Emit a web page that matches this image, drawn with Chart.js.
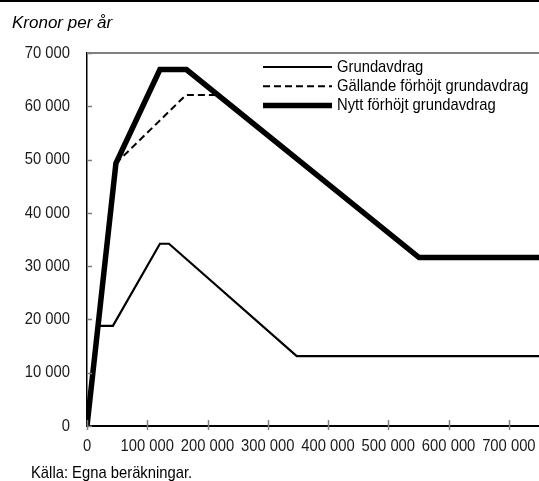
<!DOCTYPE html>
<html>
<head>
<meta charset="utf-8">
<script src="https://cdn.jsdelivr.net/npm/chart.js@4.4.0/dist/chart.umd.min.js"></script>
<style>
  html, body { margin: 0; padding: 0; background: #fff; }
  #wrap { width: 539px; height: 481px; }
</style>
</head>
<body>
<div id="wrap"><canvas id="myChart" width="539" height="481"></canvas></div>
<script>
// inkomst (kr per år) och avdrag
var grundX = [0, 18800, 43000, 121000, 136000, 348000, 750000];
var grundY = [0, 18800, 18800, 34200, 34200, 13100, 13100];
var gallandeX = [0, 48000, 164000, 218000, 551000, 750000];
var gallandeY = [0, 49300, 62100, 62100, 31600, 31600];
var nyttX = [0, 48000, 121000, 165000, 551000, 750000];
var nyttY = [0, 49300, 66900, 66900, 31600, 31600];
var labels = ['Grundavdrag', 'Gällande förhöjt grundavdrag', 'Nytt förhöjt grundavdrag'];
var xTicks = [0, 100000, 200000, 300000, 400000, 500000, 600000, 700000];
var yTicks = [0, 10000, 20000, 30000, 40000, 50000, 60000, 70000];

var NARROW = 0.87; // no narrow font installed, squeeze Liberation Sans instead
var FONT = '17px "Liberation Sans", Arial, sans-serif';

function pts(xs, ys) {
  return xs.map(function (x, i) { return { x: x, y: ys[i] }; });
}
function fmt(v) {
  return String(v).replace(/\B(?=(\d{3})+(?!\d))/g, ' ');
}
function narrowText(c, txt, x, y, align, base) {
  c.save();
  c.font = FONT;
  c.textAlign = align;
  c.textBaseline = base;
  c.translate(x, y);
  c.scale(NARROW, 1);
  c.fillText(txt, 0, 0);
  c.restore();
}

var extras = {
  id: 'extras',
  afterDraw: function (chart) {
    var c = chart.ctx, a = chart.chartArea;
    var xs = chart.scales.x, ys = chart.scales.y;
    c.save();
    // top rule
    c.fillStyle = '#000';
    c.fillRect(0, 0, chart.width, 2);
    // top frame line
    c.fillStyle = '#808080';
    c.fillRect(a.left, a.top - 1, a.right - a.left, 2);
    // tick marks
    c.strokeStyle = '#808080';
    c.lineWidth = 1.5;
    xTicks.forEach(function (v) {
      var px = Math.round(xs.getPixelForValue(v)) + 0.5;
      c.beginPath(); c.moveTo(px, a.bottom - 6); c.lineTo(px, a.bottom + 4); c.stroke();
    });
    yTicks.forEach(function (v) {
      var py = Math.round(ys.getPixelForValue(v)) + 0.5;
      c.beginPath(); c.moveTo(a.left, py); c.lineTo(a.left + 5, py); c.stroke();
    });
    // tick labels
    c.fillStyle = '#1a1a1a';
    xTicks.forEach(function (v) {
      narrowText(c, fmt(v), xs.getPixelForValue(v), a.bottom + 20, 'center', 'middle');
    });
    yTicks.forEach(function (v) {
      narrowText(c, fmt(v), a.left - 17, ys.getPixelForValue(v), 'right', 'middle');
    });
    // texts
    c.fillStyle = '#000';
    c.textBaseline = 'alphabetic';
    c.textAlign = 'left';
    c.font = 'italic 17px "Liberation Sans", Arial, sans-serif';
    c.fillText('Kronor per år', 12, 28);
    narrowText(c, 'Källa: Egna beräkningar.', 31, 478, 'left', 'alphabetic');
    // legend
    chart.data.datasets.forEach(function (ds, i) {
      var y = 67 + i * 19.3;
      c.strokeStyle = ds.borderColor;
      c.lineWidth = ds.borderWidth;
      c.setLineDash(ds.borderDash || []);
      c.beginPath(); c.moveTo(263, y); c.lineTo(332, y); c.stroke();
      c.setLineDash([]);
      c.fillStyle = '#000';
      narrowText(c, ds.label, 337, y, 'left', 'middle');
    });
    c.restore();
  }
};

var ctx = document.getElementById('myChart').getContext('2d');
var myChart = new Chart(ctx, {
  type: 'line',
  data: {
    datasets: [{
      label: labels[0],
      data: pts(grundX, grundY),
      borderColor: '#000',
      borderWidth: 2.2,
      order: 2
    },
    {
      label: labels[1],
      data: pts(gallandeX, gallandeY),
      borderColor: '#000',
      borderWidth: 2,
      borderDash: [7, 4],
      order: 1
    },
    {
      label: labels[2],
      data: pts(nyttX, nyttY),
      borderColor: '#000',
      borderWidth: 5.5,
      order: 0
    }]
  },
  options: {
    responsive: false,
    animation: false,
    layout: { padding: { top: 53, right: 0, bottom: 0, left: 0 } },
    elements: {
      point: { radius: 0 },
      line: { tension: 0, fill: false, borderJoinStyle: 'miter', borderCapStyle: 'butt' }
    },
    plugins: { legend: { display: false }, title: { display: false }, tooltip: { enabled: false } },
    scales: {
      x: {
        type: 'linear',
        min: 0, max: 750000,
        afterFit: function (s) { s.height = 55; },
        grid: { display: false },
        border: { display: true, color: '#000', width: 2 },
        ticks: { display: false }
      },
      y: {
        type: 'linear',
        min: 0, max: 70000,
        afterFit: function (s) { s.width = 87; },
        grid: { display: false },
        border: { display: true, color: '#000', width: 1.5 },
        ticks: { display: false }
      }
    }
  },
  plugins: [extras]
});
</script>
</body>
</html>
